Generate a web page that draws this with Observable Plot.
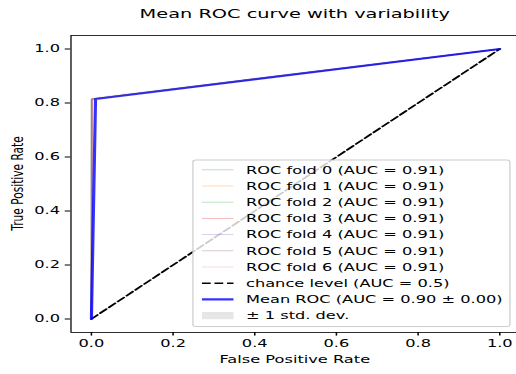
<!DOCTYPE html>
<html><head><meta charset="utf-8">
<script src="https://cdn.jsdelivr.net/npm/d3@7"></script>
<script src="https://cdn.jsdelivr.net/npm/@observablehq/plot@0.6"></script>
<style>
html,body{margin:0;padding:0;background:#fff;overflow:hidden;width:516px;height:374px}
#chart svg{display:block}
</style></head><body><div id="chart"></div>
<script>
// ---- data ----
const foldLabels = ["ROC fold 0 (AUC = 0.91)","ROC fold 1 (AUC = 0.91)","ROC fold 2 (AUC = 0.91)","ROC fold 3 (AUC = 0.91)","ROC fold 4 (AUC = 0.91)","ROC fold 5 (AUC = 0.91)","ROC fold 6 (AUC = 0.91)"];
const foldColors = ["#1f77b4","#ff7f0e","#2ca02c","#d62728","#9467bd","#8c564b","#e377c2"];
const foldFpr = [[0,0.001,1],[0,0.002,1],[0,0.000,1],[0,0.001,1],[0,0.002,1],[0,0.000,1],[0,0.001,1]];
const foldTpr = [[0,0.815,1],[0,0.815,1],[0,0.814,1],[0,0.815,1],[0,0.815,1],[0,0.814,1],[0,0.815,1]];
const chanceFpr = [0,1];
const chanceTpr = [0,1];
const meanFpr = [0,0.0101,1];
const meanTpr = [0,0.815,1];
const stdTpr = [0,0.004,0];
const xTicks = [0,0.2,0.4,0.6,0.8,1.0];
const yTicks = [0,0.2,0.4,0.6,0.8,1.0];
const chanceLabel = "chance level (AUC = 0.5)";
const meanLabel = "Mean ROC (AUC = 0.90 \u00b1 0.00)";
const stdLabel = "\u00b1 1 std. dev.";
const titleText = "Mean ROC curve with variability";
const xLabel = "False Positive Rate";
const yLabel = "True Positive Rate";

// ---- build ----
const W = 340, H = 374, SX = 1.53;
const FONT = "DejaVu Sans";
const FS = 10.6;
const foldMarks = foldFpr.map((fp, i) => Plot.line(fp.map((f, j) => ({fpr: f, tpr: foldTpr[i][j]})),
  {x: "fpr", y: "tpr", stroke: foldColors[i], strokeOpacity: 0.3, strokeWidth: 1.03}));
const chanceRows = chanceFpr.map((f, j) => ({fpr: f, tpr: chanceTpr[j]}));
const meanRows = meanFpr.map((f, j) => ({fpr: f, tpr: meanTpr[j], lo: Math.max(0, meanTpr[j]-stdTpr[j]), hi: Math.min(1, meanTpr[j]+stdTpr[j])}));

const svg = Plot.plot({
  width: W, height: H,
  marginLeft: 45.9, marginRight: 0.5, marginTop: 35, marginBottom: 42,
  style: {fontFamily: FONT, fontSize: FS + "px", color: "black", background: "white", overflow: "visible"},
  x: {domain: [-0.05, 1.05]},
  y: {domain: [-0.05, 1.05]},
  marks: [
    ...foldMarks,
    Plot.line(chanceRows, {x: "fpr", y: "tpr", stroke: "black", strokeWidth: 1.55, strokeDasharray: "5.7,2.5"}),
    Plot.line(meanRows, {x: "fpr", y: "tpr", stroke: "blue", strokeOpacity: 0.8, strokeWidth: 2.06}),
    Plot.areaY(meanRows, {x: "fpr", y1: "lo", y2: "hi", fill: "grey", fillOpacity: 0.2}),
    Plot.frame({stroke: "black", strokeWidth: 0.82}),
    Plot.axisX({ticks: xTicks, tickFormat: d3.format(".1f"), tickSize: 3.6, tickPadding: 3.6, label: null}),
    Plot.axisY({ticks: yTicks, tickFormat: d3.format(".1f"), tickSize: 3.6, tickPadding: 3.6, label: null})
  ]
});

svg.setAttribute("width", W * SX);
svg.setAttribute("preserveAspectRatio", "none");
svg.style.width = (W * SX) + "px";
svg.style.height = H + "px";
svg.style.maxWidth = "none";

const g = d3.select(svg).append("g").attr("font-family", FONT).attr("fill", "black");
g.append("text").attr("x", 192.7).attr("y", 18.3).attr("text-anchor", "middle").attr("font-size", 12.65).text(titleText);
g.append("text").attr("x", 192.7).attr("y", 363).attr("text-anchor", "middle").attr("font-size", FS).text(xLabel);
g.append("text").attr("transform", "translate(15,183.5) rotate(-90)").attr("text-anchor", "middle").attr("font-size", FS).text(yLabel);

// legend
const lg = g.append("g");
lg.append("rect").attr("x", 126.1).attr("y", 160).attr("width", 207.2).attr("height", 166.5).attr("rx", 2)
  .attr("fill", "white").attr("fill-opacity", 0.8).attr("stroke", "#cccccc").attr("stroke-width", 0.8);
const entries = [
  ...foldLabels.map((l, i) => ({label: l, kind: "line", color: foldColors[i], op: 0.3, w: 1.03})),
  {label: chanceLabel, kind: "line", color: "black", op: 1, w: 1.55, dash: "5.7,2.5"},
  {label: meanLabel, kind: "line", color: "blue", op: 0.8, w: 2.06},
  {label: stdLabel, kind: "rect"}
];
entries.forEach((e, i) => {
  const cy = 169.8 + 16.2 * i;
  if (e.kind === "line") {
    const ln = lg.append("line").attr("x1", 132).attr("x2", 152.6).attr("y1", cy).attr("y2", cy)
      .attr("stroke", e.color).attr("stroke-opacity", e.op).attr("stroke-width", e.w);
    if (e.dash) ln.attr("stroke-dasharray", e.dash);
  } else {
    lg.append("rect").attr("x", 132).attr("y", cy - 3.6).attr("width", 20.6).attr("height", 7.2)
      .attr("fill", "grey").attr("fill-opacity", 0.2);
  }
  lg.append("text").attr("x", 160.8).attr("y", cy).attr("dy", "0.35em").attr("text-anchor", "start").attr("font-size", FS).text(e.label);
});

document.getElementById("chart").appendChild(svg);
</script></body></html>
